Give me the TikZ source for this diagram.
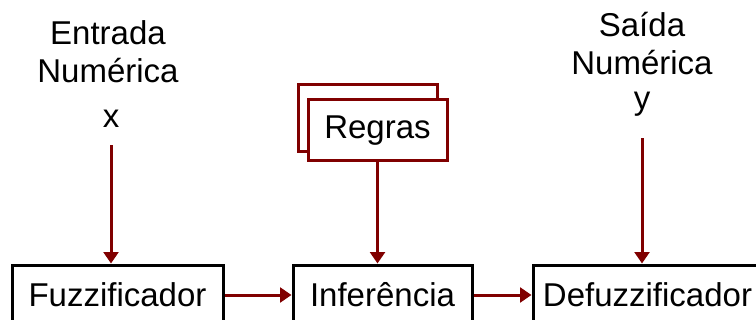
\documentclass[tikz,border=0pt]{standalone}
\usepackage{fontspec}
\setmainfont{Liberation Sans}
\usetikzlibrary{arrows.meta,positioning}
\definecolor{seta}{HTML}{800000}

\begin{document}
\begin{tikzpicture}[x=0.75pt, y=-0.75pt,
  bloco/.style={draw, rectangle, line width=2.25pt, minimum height=45pt, inner sep=0pt, font=\fontsize{24.75}{28.5}\selectfont},
  regra/.style={bloco, draw=seta, fill=white, minimum width=104.25pt},
  rotulo/.style={align=center, inner sep=0pt, font=\fontsize{24.75}{28.5}\selectfont},
  fluxo/.style={draw=seta, line width=2.25pt, -{Triangle[width=11pt,length=8.5pt]}}
]
\useasboundingbox (0,0) rectangle (756,320);
% entradas e saidas numericas
\node[rotulo, anchor=base] (entrada) at (108,83) {Entrada\\Numérica};
\node[rotulo, anchor=base] (xin) at (111,128) {x};
\node[rotulo, anchor=base] (saida) at (642,75) {Saída\\Numérica};
\node[rotulo, anchor=base] (yout) at (642,110) {y};
% base de regras
\node[regra, minimum height=50.25pt] (regras2) at (367.5,118.5) {};
\node[regra, minimum height=45.75pt] (regras) at (377.5,130.5) {Regras};
% blocos
\node[bloco, minimum width=158.25pt] (fuzz) at (117.5,295) {Fuzzificador};
\node[bloco, minimum width=134.25pt] (inf) at (382.5,295) {Inferência};
\node[bloco, minimum width=171.75pt] (defuzz) at (647.5,295) {Defuzzificador};
\draw[fluxo] (xin.south) ++(0,17) -- (xin.south |- fuzz.north);
\draw[fluxo] (regras.south) -- (regras.south |- inf.north);
\draw[fluxo] (yout.south) ++(0,21) -- (yout.south |- defuzz.north);
\draw[fluxo] (fuzz.east) -- (inf.west);
\draw[fluxo] (inf.east) -- (defuzz.west);
\end{tikzpicture}
\end{document}
